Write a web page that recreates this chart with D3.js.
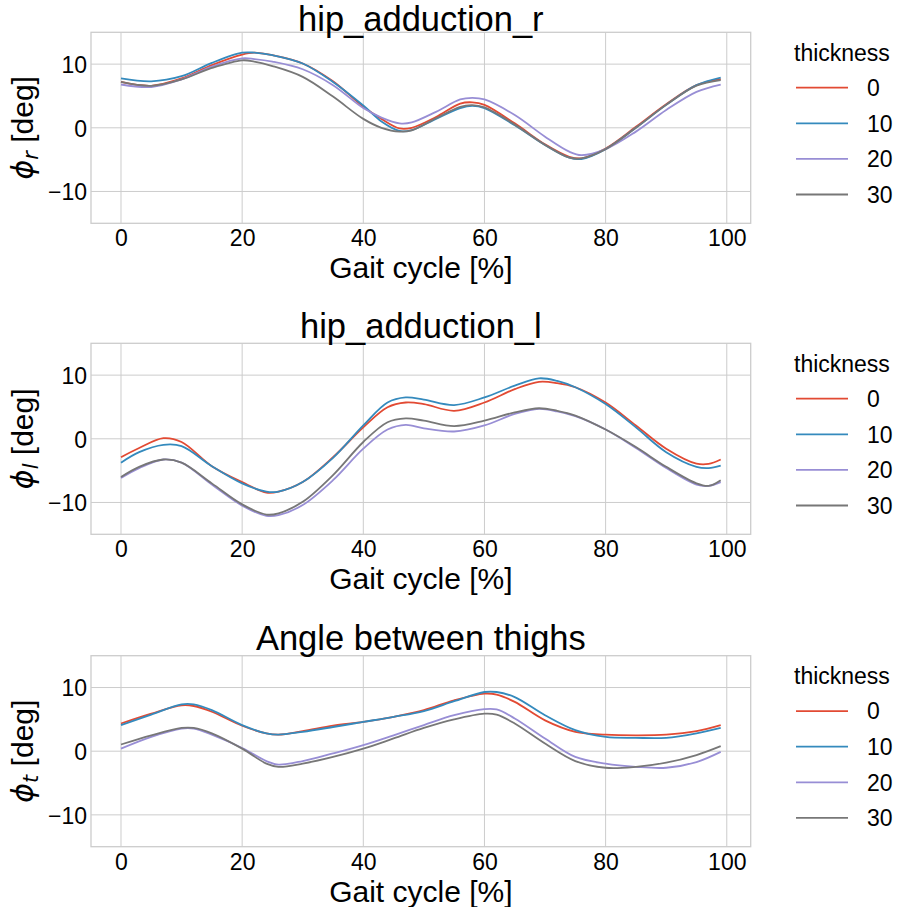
<!DOCTYPE html>
<html>
<head>
<meta charset="utf-8">
<script src="https://cdn.jsdelivr.net/npm/d3@7"></script>
<style>
  html, body { margin: 0; padding: 0; background: #fff; }
  svg { display: block; font-family: "Liberation Sans", Arial, sans-serif; }
</style>
</head>
<body>
<svg id="chart" width="898" height="907"></svg>
<script>
// ---------- data ----------
const seriesNames = ["0", "10", "20", "30"];
const seriesColors = ["#E24A33", "#348ABD", "#988ED5", "#777777"];
const legendTitle = "thickness";
const xTicks = [0, 20, 40, 60, 80, 100];
const yTicks = [-10, 0, 10];

// Panel 1: hip_adduction_r
const p1Title = "hip_adduction_r";
const p1Sub = "r";
const p1X = [0, 5, 10, 15, 20, 22, 25, 30, 35, 40, 43, 46, 48, 52, 56, 58, 60, 65, 70, 74, 76, 80, 85, 90, 95, 99];
const p1S0 = [7.2, 6.6, 7.75, 9.85, 11.5, 11.8, 11.4, 10.1, 7.3, 3.3, 1.4, -0.1, 0.0, 1.7, 3.8, 4.0, 3.6, 0.7, -2.6, -4.55, -4.8, -3.25, 0.15, 3.7, 6.7, 7.65];
const p1S10 = [7.75, 7.3, 8.1, 10.2, 11.8, 11.8, 11.4, 10.1, 7.2, 3.5, 1.0, -0.5, -0.35, 1.4, 3.1, 3.45, 3.1, 0.4, -2.7, -4.7, -4.9, -3.35, 0.0, 3.6, 6.7, 7.9];
const p1S20 = [6.8, 6.4, 7.6, 9.6, 10.9, 10.8, 10.4, 9.2, 6.7, 3.1, 1.6, 0.7, 0.85, 2.5, 4.45, 4.7, 4.45, 2.0, -1.4, -3.75, -4.3, -3.35, -0.6, 2.8, 5.65, 6.8];
const p1S30 = [7.2, 6.6, 7.6, 9.4, 10.6, 10.4, 9.7, 8.0, 4.9, 1.4, 0.0, -0.6, -0.4, 1.5, 3.3, 3.55, 3.2, 0.5, -2.7, -4.7, -4.8, -3.35, 0.0, 3.6, 6.6, 7.5];

// Panel 2: hip_adduction_l
const p2Title = "hip_adduction_l";
const p2Sub = "l";
const p2X = [0, 3, 7, 10, 15, 20, 24, 26, 30, 35, 40, 44, 47, 50, 55, 60, 65, 69, 72, 75, 80, 85, 90, 95, 97, 99];
const p2S0 = [-2.9, -1.45, 0.1, -0.5, -4.3, -6.8, -8.45, -8.3, -6.8, -2.9, 1.8, 4.95, 5.7, 5.45, 4.4, 5.7, 7.8, 8.95, 8.75, 8.1, 5.7, 2.1, -1.55, -3.9, -3.95, -3.25];
const p2S10 = [-3.75, -2.1, -0.95, -1.15, -4.3, -7.0, -8.3, -8.3, -6.8, -3.0, 2.1, 5.7, 6.5, 6.15, 5.3, 6.5, 8.35, 9.5, 9.1, 8.1, 5.45, 1.8, -2.1, -4.4, -4.6, -4.2];
const p2S20 = [-6.15, -4.6, -3.25, -3.75, -7.2, -10.5, -12.1, -12.0, -10.4, -6.5, -1.55, 1.45, 2.2, 1.65, 1.15, 2.1, 3.9, 4.7, 4.3, 3.55, 1.45, -1.45, -4.6, -7.2, -7.4, -6.8];
const p2S30 = [-6.0, -4.4, -3.25, -3.75, -7.0, -10.3, -11.9, -11.7, -9.9, -5.7, -0.5, 2.6, 3.2, 2.85, 2.0, 2.85, 4.15, 4.8, 4.4, 3.65, 1.45, -1.3, -4.4, -7.0, -7.4, -6.5];

// Panel 3: Angle between thighs
const p3Title = "Angle between thighs";
const p3Sub = "t";
const p3X = [0, 5, 10, 12, 15, 20, 24, 26, 30, 35, 40, 45, 50, 55, 60, 62, 65, 70, 75, 80, 85, 90, 95, 99];
const p3S0 = [4.35, 5.9, 7.2, 7.1, 6.2, 4.0, 2.8, 2.6, 3.15, 4.0, 4.6, 5.4, 6.45, 8.0, 9.05, 8.9, 7.75, 4.85, 3.05, 2.6, 2.5, 2.6, 3.15, 4.1];
const p3S10 = [4.1, 5.75, 7.35, 7.35, 6.45, 4.1, 2.8, 2.6, 3.05, 3.8, 4.6, 5.4, 6.3, 7.85, 9.3, 9.3, 8.5, 5.65, 3.3, 2.25, 2.1, 2.1, 2.8, 3.65];
const p3S20 = [0.4, 2.25, 3.55, 3.55, 2.6, 0.5, -1.55, -2.1, -1.55, -0.35, 0.95, 2.5, 4.1, 5.65, 6.6, 6.55, 5.15, 2.0, -0.9, -1.95, -2.45, -2.6, -1.7, -0.1];
const p3S30 = [1.05, 2.5, 3.65, 3.65, 2.8, 0.4, -1.95, -2.45, -1.95, -0.9, 0.4, 2.0, 3.65, 5.0, 5.9, 5.75, 4.35, 1.2, -1.55, -2.6, -2.45, -1.8, -0.6, 0.8];

const panels = [
  { title: p1Title, sub: p1Sub, x: p1X, series: [p1S0, p1S10, p1S20, p1S30] },
  { title: p2Title, sub: p2Sub, x: p2X, series: [p2S0, p2S10, p2S20, p2S30] },
  { title: p3Title, sub: p3Sub, x: p3X, series: [p3S0, p3S10, p3S20, p3S30] }
];

// ---------- layout ----------
const svg = d3.select("#chart");
const left = 91, right = 750.7, plotH = 191;
const tops = [32.3, 343.3, 655.7];
const gridColor = "#cccccc";
const titleSize = 34.5;

const x = d3.scaleLinear().domain([-4.95, 103.95]).range([left, right]);

panels.forEach((p, i) => {
  const top = tops[i], bottom = top + plotH;
  const y = d3.scaleLinear().domain([-15, 15]).range([bottom, top]);
  const g = svg.append("g");

  // grid
  g.selectAll(".vg").data(xTicks).enter().append("line")
    .attr("x1", d => x(d)).attr("x2", d => x(d))
    .attr("y1", top).attr("y2", bottom)
    .attr("stroke", gridColor).attr("stroke-width", 1);
  g.selectAll(".hg").data(yTicks).enter().append("line")
    .attr("x1", left).attr("x2", right)
    .attr("y1", d => y(d)).attr("y2", d => y(d))
    .attr("stroke", gridColor).attr("stroke-width", 1);

  // axes via d3 axis (labels only)
  const xAxis = d3.axisBottom(x).tickValues(xTicks).tickSize(0).tickPadding(0).tickFormat(d3.format("d"));
  const xa = g.append("g").attr("transform", `translate(0,${bottom})`).call(xAxis);
  xa.select(".domain").remove();
  xa.selectAll("text").attr("font-size", 23).attr("fill", "#000")
    .attr("font-family", "Liberation Sans, Arial, sans-serif")
    .attr("dy", null).attr("y", 23.2);

  const yAxis = d3.axisLeft(y).tickValues(yTicks).tickSize(0).tickPadding(4).tickFormat(d3.format("d"));
  const ya = g.append("g").attr("transform", `translate(${left},0)`).call(yAxis);
  ya.select(".domain").remove();
  ya.selectAll("text").attr("font-size", 23).attr("fill", "#000")
    .attr("font-family", "Liberation Sans, Arial, sans-serif")
    .attr("dy", null).attr("y", 8.4);

  // frame
  g.append("rect").attr("x", left).attr("y", top)
    .attr("width", right - left).attr("height", plotH)
    .attr("fill", "none").attr("stroke", gridColor).attr("stroke-width", 1.3);

  // lines
  const line = d3.line()
    .x((d, k) => x(p.x[k]))
    .y(d => y(d))
    .curve(d3.curveCatmullRom.alpha(0.5));
  p.series.forEach((s, k) => {
    g.append("path").attr("d", line(s))
      .attr("fill", "none").attr("stroke", seriesColors[k])
      .attr("stroke-width", 1.8);
  });

  // title (kept fully inside the page)
  const titleY = Math.max(top - 5.3, titleSize * 0.91);
  g.append("text").attr("x", (left + right) / 2).attr("y", titleY)
    .attr("text-anchor", "middle").attr("font-size", titleSize).attr("fill", "#000")
    .text(p.title);

  // x label
  g.append("text").attr("x", (left + right) / 2).attr("y", bottom + 55)
    .attr("text-anchor", "middle").attr("font-size", 30).attr("fill", "#000")
    .text("Gait cycle [%]");

  // y label
  const yl = g.append("text")
    .attr("transform", `translate(33,${(top + bottom) / 2}) rotate(-90)`)
    .attr("text-anchor", "middle").attr("font-size", 30).attr("fill", "#000");
  yl.append("tspan").attr("font-family", "DejaVu Sans").attr("font-style", "italic").text("\u03D5");
  yl.append("tspan").attr("font-family", "DejaVu Sans").attr("font-style", "italic")
    .attr("font-size", 21).attr("dy", 5).text(p.sub);
  yl.append("tspan").attr("dy", -5).text(" [deg]");

  // legend
  const lg = g.append("g");
  lg.append("text").attr("x", 794).attr("y", top + 28.7)
    .attr("font-size", 23).attr("fill", "#000").text(legendTitle);
  seriesNames.forEach((n, k) => {
    const ly = top + 55.4 + k * 35.6;
    lg.append("line").attr("x1", 796).attr("x2", 848).attr("y1", ly).attr("y2", ly)
      .attr("stroke", seriesColors[k]).attr("stroke-width", 1.8);
    lg.append("text").attr("x", 867).attr("y", ly + 8.2)
      .attr("font-size", 23).attr("fill", "#000").text(n);
  });
});
</script>
</body>
</html>
